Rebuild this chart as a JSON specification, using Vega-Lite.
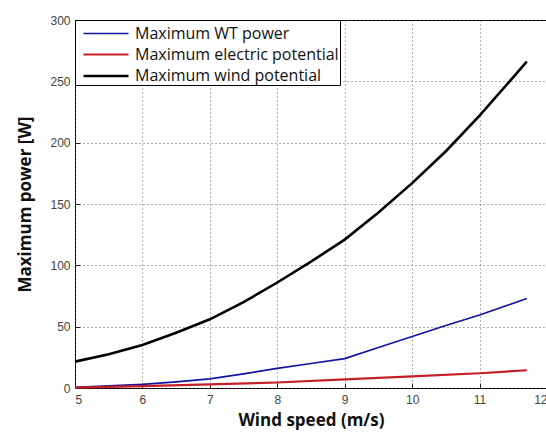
{
  "$schema": "https://vega.github.io/schema/vega-lite/v6.json",
  "width": 472,
  "height": 368,
  "autosize": {"type": "none"},
  "padding": {"left": 75, "top": 20, "right": 0, "bottom": 44},
  "background": "white",
  "config": {
    "view": {"stroke": "black", "strokeWidth": 1},
    "axis": {
      "labelFont": "Liberation Sans",
      "labelFontSize": 12,
      "labelColor": "#444",
      "titleFont": "Open Sans",
      "titleFontSize": 17,
      "titleFontWeight": "bold",
      "titleColor": "#111",
      "domain": false,
      "ticks": true,
      "tickSize": -5,
      "tickColor": "#222",
      "grid": true,
      "gridColor": "#555",
      "gridDash": [1, 3],
      "gridWidth": 1,
      "gridOpacity": 0.9
    }
  },
  "data": {
    "values": [
      {"speed": 5, "power": 0.5, "series": "Maximum WT power"},
      {"speed": 5.5, "power": 1.8, "series": "Maximum WT power"},
      {"speed": 6, "power": 3, "series": "Maximum WT power"},
      {"speed": 6.5, "power": 5, "series": "Maximum WT power"},
      {"speed": 7, "power": 7.5, "series": "Maximum WT power"},
      {"speed": 7.5, "power": 11.5, "series": "Maximum WT power"},
      {"speed": 8, "power": 16, "series": "Maximum WT power"},
      {"speed": 8.5, "power": 20, "series": "Maximum WT power"},
      {"speed": 9, "power": 24, "series": "Maximum WT power"},
      {"speed": 9.5, "power": 33, "series": "Maximum WT power"},
      {"speed": 10, "power": 42, "series": "Maximum WT power"},
      {"speed": 10.5, "power": 51, "series": "Maximum WT power"},
      {"speed": 11, "power": 59.5, "series": "Maximum WT power"},
      {"speed": 11.7, "power": 73, "series": "Maximum WT power"},
      {"speed": 5, "power": 0.3, "series": "Maximum electric potential"},
      {"speed": 6, "power": 1.5, "series": "Maximum electric potential"},
      {"speed": 7, "power": 3, "series": "Maximum electric potential"},
      {"speed": 8, "power": 4.5, "series": "Maximum electric potential"},
      {"speed": 9, "power": 7, "series": "Maximum electric potential"},
      {"speed": 10, "power": 9.5, "series": "Maximum electric potential"},
      {"speed": 11, "power": 12, "series": "Maximum electric potential"},
      {"speed": 11.7, "power": 14.5, "series": "Maximum electric potential"},
      {"speed": 5, "power": 21.5, "series": "Maximum wind potential"},
      {"speed": 5.5, "power": 27.5, "series": "Maximum wind potential"},
      {"speed": 6, "power": 35, "series": "Maximum wind potential"},
      {"speed": 6.5, "power": 45, "series": "Maximum wind potential"},
      {"speed": 7, "power": 56, "series": "Maximum wind potential"},
      {"speed": 7.5, "power": 70, "series": "Maximum wind potential"},
      {"speed": 8, "power": 86, "series": "Maximum wind potential"},
      {"speed": 8.5, "power": 103, "series": "Maximum wind potential"},
      {"speed": 9, "power": 121, "series": "Maximum wind potential"},
      {"speed": 9.5, "power": 143, "series": "Maximum wind potential"},
      {"speed": 10, "power": 167, "series": "Maximum wind potential"},
      {"speed": 10.5, "power": 193, "series": "Maximum wind potential"},
      {"speed": 11, "power": 222, "series": "Maximum wind potential"},
      {"speed": 11.7, "power": 266, "series": "Maximum wind potential"}
    ]
  },
  "mark": {"type": "line"},
  "encoding": {
    "x": {
      "field": "speed",
      "type": "quantitative",
      "scale": {"domain": [5, 12], "nice": false, "zero": false},
      "axis": {"values": [5, 6, 7, 8, 9, 10, 11, 12], "title": "Wind speed (m/s)", "labelPadding": 11, "titlePadding": 7}
    },
    "y": {
      "field": "power",
      "type": "quantitative",
      "scale": {"domain": [0, 300], "nice": false},
      "axis": {"values": [0, 50, 100, 150, 200, 250, 300], "title": "Maximum power [W]", "labelPadding": 10, "titlePadding": 15}
    },
    "color": {
      "field": "series",
      "type": "nominal",
      "scale": {
        "domain": ["Maximum WT power", "Maximum electric potential", "Maximum wind potential"],
        "range": ["#1414a0", "#c41e26", "#000000"]
      },
      "legend": {
        "title": null,
        "orient": "top-left",
        "offset": 0,
        "fillColor": "white",
        "strokeColor": "black",
        "padding": 1,
        "symbolType": "M-2,0H2",
        "symbolSize": 506,
        "symbolStrokeWidth": 2,
        "symbolOffset": 17,
        "labelFont": "Open Sans",
        "labelFontSize": 16,
        "labelColor": "#111",
        "labelLimit": 400,
        "labelOffset": 16,
        "rowPadding": -2
      }
    },
    "strokeWidth": {
      "field": "series",
      "type": "nominal",
      "scale": {
        "domain": ["Maximum WT power", "Maximum electric potential", "Maximum wind potential"],
        "range": [1.7, 2.6, 1.7]
      },
      "legend": null
    }
  }
}
